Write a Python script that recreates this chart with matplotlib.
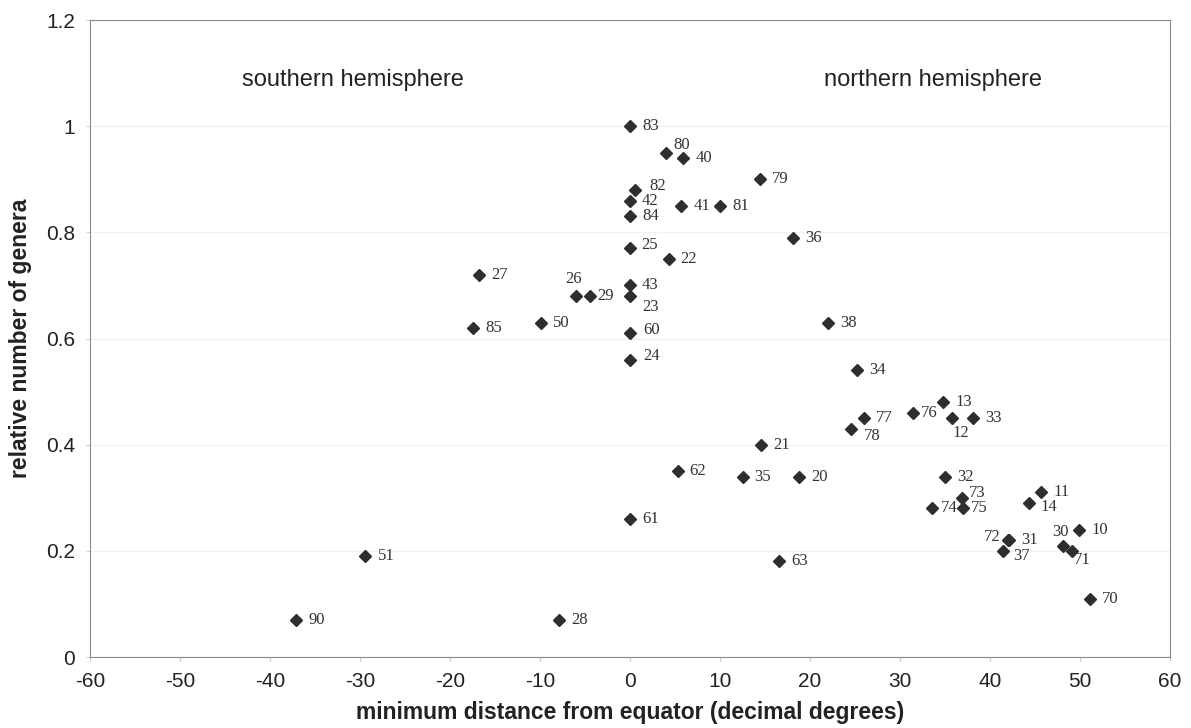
import matplotlib
matplotlib.use("Agg")
import matplotlib.pyplot as plt

plt.rcParams["axes.unicode_minus"] = False

# site number, distance from equator, relative number of genera
sites = [83, 80, 40, 79, 82, 42, 41, 81, 84, 36, 25, 22, 27, 43, 26, 29, 23,
         85, 50, 60, 38, 24, 34, 13, 76, 12, 33, 77, 78, 21, 62, 35, 20,
         32, 73, 74, 75, 11, 14, 10, 30, 71, 72, 31, 37, 61, 63, 51, 70,
         90, 28]
dist = [0, 4.0, 5.9, 14.4, 0.6, 0, 5.7, 10.0, 0, 18.1, 0, 4.3, -16.8, 0, -6.0, -4.5, 0,
        -17.4, -9.9, 0, 22.0, 0, 25.2, 34.8, 31.4, 35.8, 38.1, 26.0, 24.6, 14.6, 5.3, 12.5, 18.8,
        35.0, 36.9, 33.6, 37.0, 45.7, 44.3, 49.9, 48.1, 49.1, 42.0, 42.1, 41.4, 0, 16.6, -29.4, 51.1,
        -37.1, -7.9]
genera = [1.00, 0.95, 0.94, 0.90, 0.88, 0.86, 0.85, 0.85, 0.83, 0.79, 0.77, 0.75, 0.72, 0.70, 0.68, 0.68, 0.68,
          0.62, 0.63, 0.61, 0.63, 0.56, 0.54, 0.48, 0.46, 0.45, 0.45, 0.45, 0.43, 0.40, 0.35, 0.34, 0.34,
          0.34, 0.30, 0.28, 0.28, 0.31, 0.29, 0.24, 0.21, 0.20, 0.22, 0.22, 0.20, 0.26, 0.18, 0.19, 0.11,
          0.07, 0.07]

# label placement (offset in pixels, horizontal alignment) where it differs from the default
label_pos = {
    80: (7, 8, "left"), 82: (14, 4, "left"), 26: (-2, 17, "center"), 23: (12, -11, "left"),
    29: (8, 0, "left"), 76: (8, 0, "left"), 12: (9, -15, "center"), 78: (12, -7, "left"),
    74: (8, 0, "left"), 75: (8, 0, "left"), 73: (7, 5, "left"), 14: (12, -4, "left"),
    30: (-3, 14, "center"), 71: (2, -9, "left"), 72: (-8, 3, "right"), 37: (11, -5, "left"),
    25: (11, 3, "left"), 60: (13, 3, "left"), 24: (13, 4, "left"),
}

fig = plt.figure(figsize=(11.91, 7.28), dpi=100)
ax = fig.add_axes([0.0756, 0.0975, 0.9068, 0.875])

ax.plot(dist, genera, "D", color="#2e2e2e", markersize=6, linestyle="none", zorder=3)

for s, x, y in zip(sites, dist, genera):
    dx, dy, ha = label_pos.get(s, (12, 0, "left"))
    ax.annotate(str(s), (x, y), xytext=(dx, dy), textcoords="offset pixels",
                ha=ha, va="center", fontsize=12, family="Liberation Serif", color="#333333")

ax.text(-30.8, 1.087, "southern hemisphere", ha="center", va="center",
        fontsize=17, family="Liberation Sans", color="#222222")
ax.text(33.7, 1.087, "northern hemisphere", ha="center", va="center",
        fontsize=17, family="Liberation Sans", color="#222222")

ax.set_xlim(-60, 60)
ax.set_ylim(0, 1.2)
ax.set_xticks(range(-60, 61, 10))
ax.set_yticks([0, 0.2, 0.4, 0.6, 0.8, 1.0, 1.2])
ax.set_yticklabels(["0", "0.2", "0.4", "0.6", "0.8", "1", "1.2"])
ax.yaxis.grid(True, color="#f2f2f2", linewidth=1)
ax.set_axisbelow(True)

for sp in ax.spines.values():
    sp.set_color("#8a8a8a")
ax.tick_params(colors="#cccccc", length=3, labelsize=15, labelcolor="#222222", pad=8)
for lab in ax.get_xticklabels() + ax.get_yticklabels():
    lab.set_family("Liberation Sans")

ax.set_xlabel("minimum distance from equator (decimal degrees)", fontsize=16.5,
              fontweight="bold", family="Liberation Sans", color="#222222", labelpad=7)
ax.set_ylabel("relative number of genera", fontsize=16.5, fontweight="bold",
              family="Liberation Sans", color="#222222", labelpad=10)

fig.savefig("out.png", dpi=100)
